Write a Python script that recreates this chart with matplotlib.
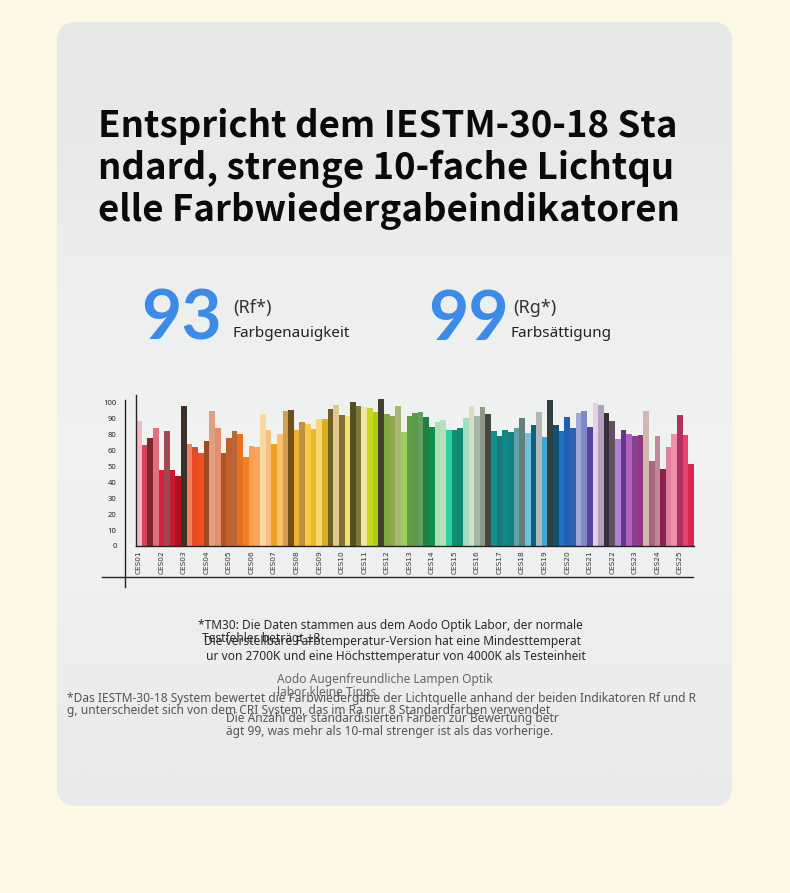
import numpy as np
import matplotlib.pyplot as plt
from matplotlib.patches import FancyBboxPatch

plt.rcParams["font.family"] = ["Noto Sans", "DejaVu Sans"]

# bar heights of the 99 colour samples (in the chart's own axis units)
heights = [87.2, 70.4, 75.5, 82.5, 52.8, 80.2, 53.0, 49.0, 97.6, 70.9,
           69.3, 64.6, 73.2, 94.4, 82.0, 64.6, 75.5, 80.4, 77.9, 62.3,
           69.9, 69.3, 91.8, 80.9, 70.9, 78.1, 94.1, 94.8, 80.9, 86.2,
           84.8, 81.4, 88.6, 88.6, 95.5, 98.3, 91.4, 90.9, 100.5, 97.9,
           97.2, 96.5, 93.7, 102.5, 92.0, 90.9, 97.6, 79.7, 90.9, 92.5,
           93.2, 90.0, 83.0, 86.7, 87.9, 80.9, 80.9, 82.1, 89.5, 97.6,
           90.7, 96.9, 91.8, 80.2, 76.9, 80.9, 79.7, 82.1, 89.5, 78.6,
           84.4, 93.7, 75.8, 101.6, 84.4, 80.2, 89.7, 82.5, 93.0, 94.4,
           83.2, 99.5, 98.3, 92.5, 87.4, 74.6, 81.1, 78.1, 76.5, 77.4,
           94.4, 59.3, 76.9, 53.7, 69.3, 77.9, 91.4, 77.4, 57.0]

bar_colors = ["#f4b8c0", "#d94060", "#7a2828", "#e07080", "#d8203c", "#a04850", "#c8182c", "#b01020",
              "#3a3028", "#f08060", "#e84828", "#f05020", "#a04820", "#e0a080", "#e09070", "#b85020",
              "#c06030", "#b86838", "#e87020", "#f57f20", "#f8a050", "#f8a858", "#f8d8a0", "#f8c080",
              "#f0a020", "#f8c070", "#d0a050", "#705018", "#f0b030", "#c09040", "#f8c848", "#f0b820",
              "#f8d870", "#d8b020", "#706020", "#e0c890", "#807030", "#f0e070", "#505020", "#807838",
              "#f0e8a0", "#c8d820", "#a8d010", "#404030", "#80a840", "#90a850", "#a8b870", "#98d060",
              "#60a040", "#5a9a48", "#60a060", "#208040", "#109050", "#a8e0b0", "#b8e0b8", "#30d0a0",
              "#109070", "#108870", "#a0e0c0", "#d8dcc0", "#a0b8a8", "#909888", "#404840", "#109090",
              "#207878", "#108888", "#108080", "#60a0a8", "#608080", "#70c0e0", "#106080", "#b0b8b8",
              "#40a8d0", "#304040", "#105070", "#2070c0", "#2060b0", "#3060b0", "#a0a8d8", "#8088c8",
              "#5048a0", "#e8d0e0", "#b0a0c0", "#383038", "#605060", "#b080d0", "#603888", "#b060c0",
              "#884090", "#903880", "#d0b8b0", "#a86878", "#c08898", "#902050", "#e080a0", "#f090a8",
              "#b03060", "#e84070", "#d82850"]

group_labels = ["CES%02d" % i for i in range(1, 26)]
ytick_labels = ["0", "10", "20", "30", "40", "50", "60", "80", "90", "100"]

W, H = 790, 893
fig = plt.figure(figsize=(W / 100, H / 100), dpi=100)
fig.patch.set_facecolor("#fdf7e6")

bg = fig.add_axes([0, 0, 1, 1])
bg.set_xlim(0, W)
bg.set_ylim(H, 0)
bg.axis("off")

# card with a soft vertical gradient
card = FancyBboxPatch((57, 22), 675, 784, boxstyle="round,pad=0,rounding_size=20",
                      facecolor="#eceeed", edgecolor="none", zorder=1)
bg.add_patch(card)
grad = np.array([[0.0], [0.35], [0.6], [0.5], [0.2]])
cmap = plt.matplotlib.colors.LinearSegmentedColormap.from_list("c", ["#e6e8e7", "#f1f3f2"])
im = bg.imshow(grad, extent=(57, 732, 806, 22), aspect="auto", cmap=cmap,
               interpolation="bicubic", zorder=1.5)
im.set_clip_path(card)

# title
title_lines = ["Entspricht dem IESTM-30-18 Sta",
               "ndard, strenge 10-fache Lichtqu",
               "elle Farbwiedergabeindikatoren"]
for i, line in enumerate(title_lines):
    bg.text(98, 137 + 42 * i, line, fontsize=26.4, fontweight="bold", color="#0a0a0a",
            family=["Noto Sans CJK SC", "DejaVu Sans"], va="baseline", ha="left", zorder=3)

# big numbers
blue = "#3d8be8"
bg.text(141, 340, "93", fontsize=50, fontweight="bold", family="Lato", color=blue,
        va="baseline", zorder=3)
bg.text(233, 313, "(Rf*)", fontsize=13, color="#333333", va="baseline", zorder=3)
bg.text(233, 337, "Farbgenauigkeit", fontsize=11, color="#222222", va="baseline", zorder=3)
bg.text(428, 340, "99", fontsize=50, fontweight="bold", family="Lato", color=blue,
        va="baseline", zorder=3)
bg.text(513, 313, "(Rg*)", fontsize=13, color="#333333", va="baseline", zorder=3)
bg.text(511, 337, "Farbsättigung", fontsize=11, color="#222222", va="baseline", zorder=3)

# outer frame lines of the chart
bg.plot([125, 125], [400, 587], color="#222222", lw=1, zorder=3)
bg.plot([102, 693], [577, 577], color="#222222", lw=1, zorder=3)

# footer notes
notes = [
    (198, 629, "*TM30: Die Daten stammen aus dem Aodo Optik Labor, der normale", "#2a2a2a"),
    (202, 642, "Testfehler beträgt ±3", "#2a2a2a"),
    (204, 645, "Die verstellbare Farbtemperatur-Version hat eine Mindesttemperat", "#2a2a2a"),
    (206, 660, "ur von 2700K und eine Höchsttemperatur von 4000K als Testeinheit", "#2a2a2a"),
    (277, 683, "Aodo Augenfreundliche Lampen Optik", "#666666"),
    (277, 696, "labor kleine Tipps", "#666666"),
    (67, 702, "*Das IESTM-30-18 System bewertet die Farbwiedergabe der Lichtquelle anhand der beiden Indikatoren Rf und R", "#555555"),
    (67, 714, "g, unterscheidet sich von dem CRI System, das im Ra nur 8 Standardfarben verwendet", "#555555"),
    (226, 722, "Die Anzahl der standardisierten Farben zur Bewertung betr", "#555555"),
    (226, 735, "ägt 99, was mehr als 10-mal strenger ist als das vorherige.", "#555555"),
]
for x, y, s, c in notes:
    bg.text(x, y, s, fontsize=8.6, color=c, va="baseline", ha="left", zorder=3)

# bar chart
left, right, base, top = 136, 694, 546, 395.4
ax = fig.add_axes([left / W, (H - base) / H, (right - left) / W, (base - top) / H])
ax.set_facecolor("none")
x = np.arange(len(heights))
ax.bar(x, heights, width=1.0, align="edge", color=bar_colors, linewidth=0)
ax.set_xlim(0, len(heights))
ax.set_ylim(0, 105)

ax.set_yticks(np.linspace(0, 100, 10))
ax.set_yticklabels(ytick_labels, fontsize=5.5, color="#222222")
ax.tick_params(axis="y", length=0, pad=14)
ax.set_xticks(np.arange(0, len(heights), 4) + 0.5)
ax.set_xticklabels(group_labels, rotation=90, fontsize=5.3, color="#333333",
                   family="DejaVu Sans")
ax.tick_params(axis="x", length=0, pad=3)

for side in ["top", "right"]:
    ax.spines[side].set_visible(False)
ax.spines["left"].set_color("#222222")
ax.spines["bottom"].set_color("#222222")
ax.spines["left"].set_linewidth(1)
ax.spines["bottom"].set_linewidth(1)

fig.savefig("out.png", dpi=100, facecolor=fig.get_facecolor())
